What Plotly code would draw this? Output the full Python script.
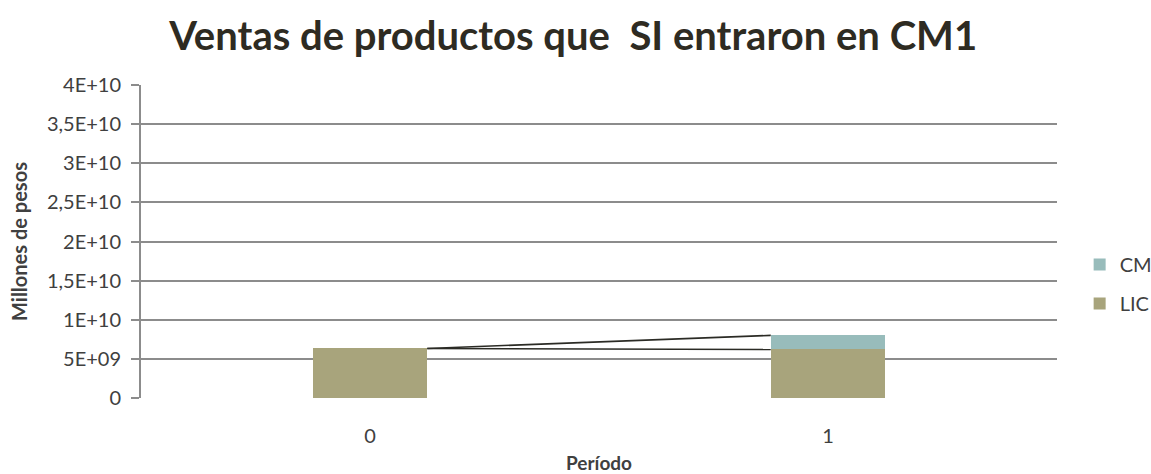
import plotly.graph_objects as go

periods = [0, 1]
period_labels = ["0", "1"]
lic = [6.33e9, 6.2e9]
cm = [0.0, 1.8e9]
y_ticks = [0, 5e9, 1e10, 1.5e10, 2e10, 2.5e10, 3e10, 3.5e10, 4e10]
y_tick_labels = ["0", "5E+09", "1E+10", "1,5E+10", "2E+10", "2,5E+10", "3E+10", "3,5E+10", "4E+10"]

BAR_W = 0.25
FONT = "Lato, Open Sans, sans-serif"
fig = go.Figure()
fig.add_trace(go.Bar(x=periods, y=lic, name="LIC", width=BAR_W, marker=dict(color="#a8a47c", line_width=0),
                     legendgroup="lic", legendrank=2))
fig.add_trace(go.Bar(x=periods, y=cm, name="CM", width=BAR_W, marker=dict(color="#98bcbb", line_width=0),
                     legendgroup="cm", legendrank=1))

# series lines (connect tops of stacked segments between bars)
tops_lic = lic
tops_cm = [a + b for a, b in zip(lic, cm)]
for tops in (tops_lic, tops_cm):
    fig.add_trace(go.Scatter(x=[periods[0] + BAR_W / 2, periods[1] - BAR_W / 2], y=[tops[0], tops[1]],
                             mode="lines", line=dict(color="#2b2b25", width=1.6), showlegend=False,
                             hoverinfo="skip"))

fig.update_layout(
    width=1151, height=474,
    barmode="stack",
    paper_bgcolor="white", plot_bgcolor="white",
    margin=dict(l=141, r=94, t=85, b=76, autoexpand=False),
    title=dict(text="<b>Ventas de productos que  SI entraron en CM1</b>", x=0.498, xanchor="center",
               xref="container", y=1 - 36 / 474, yanchor="middle", yref="container",
               font=dict(family=FONT, size=40, color="#2e2b22")),
    font=dict(family=FONT, color="#404040"),
    legend=dict(xref="container", x=0.938, xanchor="left", yref="container", y=1 - 284 / 474, yanchor="middle",
                traceorder="grouped", font=dict(size=20, color="#404040"), tracegroupgap=10,
                itemwidth=30),
    showlegend=True,
)
fig.update_xaxes(range=[-0.5, 1.5], tickvals=periods, ticktext=period_labels, showgrid=False,
                 showline=False, zeroline=False, ticks="", tickfont=dict(size=20, color="#404040"),
                 ticklabelstandoff=24,
                 title=dict(text="<b>Período</b>", font=dict(size=19, color="#404040"), standoff=12))
fig.update_yaxes(range=[0, 4e10], tickvals=y_ticks, ticktext=y_tick_labels, showgrid=True,
                 gridcolor="#8c8c8c", gridwidth=2, showline=True, linecolor="#8c8c8c", linewidth=2,
                 ticks="outside", ticklen=8, tickwidth=2, tickcolor="#8c8c8c", zeroline=False,
                 tickfont=dict(size=20, color="#404040"), ticklabelstandoff=6,
                 title=dict(text="<b>Millones de pesos</b>", font=dict(size=20, color="#404040"), standoff=14))

fig.write_html("out.html")
